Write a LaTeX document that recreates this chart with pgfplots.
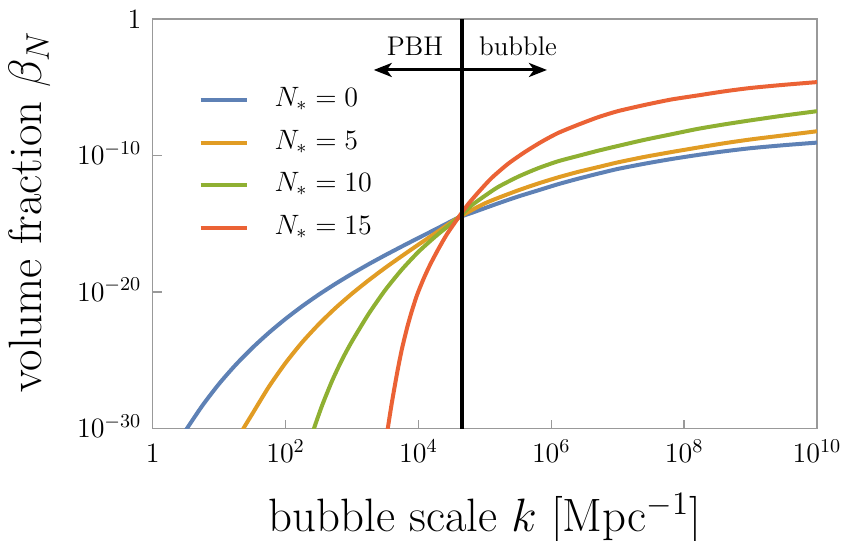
\RequirePackage{fix-cm}
\documentclass[border=0pt]{standalone}
\usepackage{pgfplots}
\pgfplotsset{compat=1.18}
\usetikzlibrary{arrows.meta}
\definecolor{cBlue}{HTML}{5E81B5}
\definecolor{cOrange}{HTML}{E19C24}
\definecolor{cGreen}{HTML}{8FB032}
\definecolor{cRed}{HTML}{EB6235}
\definecolor{cAxis}{HTML}{999999}

% N_* = 0
\pgfplotstableread{
k beta
2.512 1.413e-31
3.311 1.122e-30
5.623 5.082e-29
10 1.963e-27
17.78 4.797e-26
31.62 8.279e-25
56.23 1.074e-23
100 1.104e-22
177.8 9.290e-22
316.2 6.577e-21
562.3 4.036e-20
1000 2.203e-19
1778 1.104e-18
3162 5.082e-18
5623 2.203e-17
1e4 9.290e-17
1.778e4 3.811e-16
3.981e4 2.818e-15
6.310e4 6.310e-15
1e5 1.413e-14
1.585e5 3.162e-14
3.162e5 1e-13
6.310e5 2.818e-13
1.259e6 7.943e-13
2.512e6 1.995e-12
5.012e6 4.677e-12
1e7 1.047e-11
2.512e7 2.512e-11
6.310e7 5.495e-11
1.585e8 1.096e-10
3.981e8 2.042e-10
1e9 3.467e-10
3.162e9 5.754e-10
1e10 8.913e-10
}\tblA

% N_* = 5
\pgfplotstableread{
k beta
18.62 1.413e-31
23.44 1.122e-30
31.62 1.230e-29
56.23 1.202e-27
100 6.531e-26
177.8 2.138e-24
316.2 4.467e-23
562.3 6.761e-22
1000 7.762e-21
1778 7.328e-20
3162 6.026e-19
5623 4.365e-18
1e4 3.020e-17
1.778e4 1.995e-16
3.162e4 1.349e-15
3.981e4 2.818e-15
6.310e4 1e-14
1e5 3.162e-14
1.585e5 7.943e-14
3.162e5 2.818e-13
6.310e5 8.913e-13
1.259e6 2.512e-12
2.512e6 6.310e-12
5.012e6 1.413e-11
1e7 3.162e-11
2.512e7 7.943e-11
6.310e7 1.778e-10
1.585e8 3.802e-10
3.981e8 7.943e-10
1e9 1.514e-9
3.162e9 3.020e-9
1e10 6.026e-9
}\tblB

% N_* = 10
\pgfplotstableread{
k beta
234.4 1.259e-31
269.2 1.122e-30
354.8 5.012e-29
501.2 3.162e-27
707.9 1.122e-25
1000 2.512e-24
1778 2.512e-22
3162 1.413e-20
5623 4.467e-19
1e4 8.913e-18
1.778e4 1.122e-16
2.818e4 7.079e-16
3.981e4 2.818e-15
6.310e4 2.239e-14
1e5 1.122e-13
1.585e5 5.012e-13
3.162e5 2.818e-12
6.310e5 1.175e-11
1.259e6 3.802e-11
2.512e6 9.333e-11
5.012e6 2.239e-10
1e7 5.012e-10
2.512e7 1.413e-9
6.310e7 3.548e-9
1.585e8 8.913e-9
3.981e8 1.905e-8
1e9 3.802e-8
3.162e9 8.511e-8
1e10 1.778e-7
}\tblC

% N_* = 15
\pgfplotstableread{
k beta
3162 5.012e-32
3467 1.122e-30
3981 7.943e-29
4786 1.259e-26
5623 6.310e-25
6761 2.512e-23
7943 3.981e-22
9550 6.310e-21
1.202e4 1e-19
1.514e4 1.122e-18
1.995e4 1.413e-17
2.692e4 1.778e-16
3.981e4 2.818e-15
5.623e4 2.818e-14
7.943e4 1.995e-13
1.259e5 2.239e-12
2.239e5 2.512e-11
3.981e5 1.778e-10
7.079e5 1e-9
1.259e6 4.467e-9
2.512e6 1.778e-8
5.012e6 6.310e-8
1e7 1.778e-7
2.512e7 5.012e-7
6.310e7 1.259e-6
1.585e8 2.512e-6
3.981e8 5.012e-6
1e9 8.913e-6
3.162e9 1.514e-5
1e10 2.399e-5
}\tblD

\begin{document}
\begin{tikzpicture}
\begin{axis}[
  name=ax,
  xmode=log, ymode=log,
  scale only axis,
  width=332.15pt, height=204.85pt,
  xmin=1, xmax=1e10, ymin=1e-30, ymax=1,
  xtick={1,1e2,1e4,1e6,1e8,1e10},
  xticklabels={$1$,$10^{2}$,$10^{4}$,$10^{6}$,$10^{8}$,$10^{10}$},
  ytick={1e-30,1e-20,1e-10,1},
  yticklabels={$10^{-30}$,$10^{-20}$,$10^{-10}$,$1$},
  minor xtick={}, minor ytick={},
  tick pos=left,
  tick align=inside,
  major tick length=4.5pt,
  axis line style={draw=cAxis, line width=0.7pt},
  every tick/.style={draw=cAxis, line width=0.7pt},
  tick label style={font=\fontsize{14}{14}\selectfont},
  xticklabel style={anchor=base, inner sep=0pt, yshift=-17pt},
  yticklabel style={anchor=base east, inner sep=0pt, xshift=-5.5pt, yshift=-4.5pt},
  xlabel={bubble scale $k$ [Mpc$^{-1}$]},
  ylabel={volume fraction $\beta_N$},
  label style={font=\fontsize{23.4}{23.4}\selectfont},
  xlabel style={at={(axis description cs:0.5,-0.2512)}, anchor=base, inner sep=0pt},
  ylabel style={at={(axis description cs:-0.1669,0.529)}, anchor=base, inner sep=0pt},
  clip=true,
  legend cell align=left,
  legend image code/.code={\draw[#1] (0pt,0pt) -- (23pt,0pt);},
  legend style={draw=none, fill=none, inner sep=0pt, outer sep=0pt,
    at={(axis description cs:0.069,0.835)}, anchor=north west,
    font=\fontsize{14}{14}\selectfont, row sep=7.75pt, column sep=0pt,
    nodes={inner sep=0pt, text height=10pt, text depth=3.5pt},
    /tikz/every odd column/.append style={column sep=13pt}},
]
\addplot[cBlue, line width=2pt, smooth, tension=0.4] table[x=k, y=beta] {\tblA};
\addlegendentry{$N_* = 0$}
\addplot[cOrange, line width=2pt, smooth, tension=0.4] table[x=k, y=beta] {\tblB};
\addlegendentry{$N_* = 5$}
\addplot[cGreen, line width=2pt, smooth, tension=0.4] table[x=k, y=beta] {\tblC};
\addlegendentry{$N_* = 10$}
\addplot[cRed, line width=2pt, smooth, tension=0.4] table[x=k, y=beta] {\tblD};
\addlegendentry{$N_* = 15$}
\addplot[black, line width=2pt, forget plot] coordinates {(4.5e4,1e-30) (4.5e4,1)};
\draw[{Stealth[length=9pt,width=7pt,inset=2.5pt]}-{Stealth[length=9pt,width=7pt,inset=2.5pt]}, line width=1.5pt]
  (rel axis cs:0.3328,0.8756) -- (rel axis cs:0.5935,0.8756);
\node[anchor=base east, inner sep=0pt, font=\fontsize{13.5}{13.5}\selectfont] at (rel axis cs:0.438,0.912) {PBH};
\node[anchor=base west, inner sep=0pt, font=\fontsize{13.5}{13.5}\selectfont] at (rel axis cs:0.4907,0.912) {bubble};
\end{axis}
\pgfresetboundingbox
\path[use as bounding box] ([xshift=-76.35pt,yshift=-56.15pt]ax.south west) rectangle ([xshift=12pt,yshift=9.5pt]ax.north east);
\end{tikzpicture}
\end{document}
